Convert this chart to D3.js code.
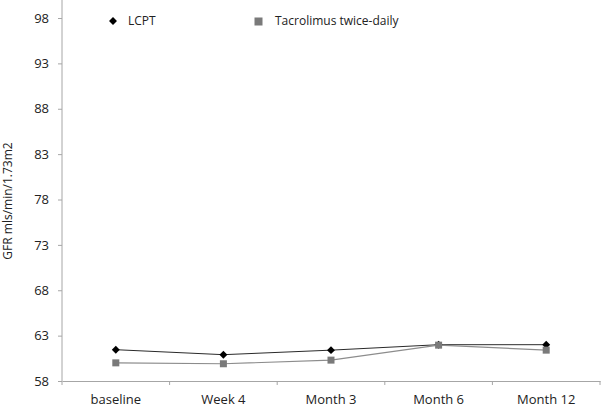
<!DOCTYPE html>
<html>
<head>
<meta charset="utf-8">
<script src="https://d3js.org/d3.v7.min.js"></script>
<style>
  body { margin: 0; background: #fff; }
  svg text { font-family: "Open Sans", "Liberation Sans", sans-serif; fill: #222; }
  .axis path, .axis line { stroke: #a6a6a6; }
</style>
</head>
<body>
<div id="chart"></div>
<script>
// data
var timepoints = ["baseline", "Week 4", "Month 3", "Month 6", "Month 12"];
var lcpt = [61.45, 60.9, 61.4, 62.0, 62.0];
var tacBid = [60.0, 59.9, 60.3, 61.95, 61.4];
var yTicks = [58, 63, 68, 73, 78, 83, 88, 93, 98];
var seriesNames = ["LCPT", "Tacrolimus twice-daily"];

var W = 602, H = 407;
var margin = {top: 18, right: 2, bottom: 26, left: 62};
var width = W - margin.left - margin.right,
    height = H - margin.top - margin.bottom;

var svg = d3.select("#chart").append("svg")
    .attr("width", W).attr("height", H);

var g = svg.append("g")
    .attr("transform", "translate(" + margin.left + "," + margin.top + ")");

var x = d3.scaleBand().domain(timepoints).range([0, width]);
var y = d3.scaleLinear().domain([58, 98]).range([height, 0]);

// y axis
var yAxis = g.append("g").attr("class", "axis")
    .call(d3.axisLeft(y).tickValues(yTicks).tickSize(4).tickSizeOuter(0));
yAxis.select(".domain").attr("d", "M0," + height + "V-" + margin.top);
yAxis.selectAll("text").attr("x", -13).style("font-size", "13px");

// x axis with tick marks at band edges
var xAxis = g.append("g").attr("class", "axis")
    .attr("transform", "translate(0," + height + ")")
    .call(d3.axisBottom(x).tickSize(0).tickSizeOuter(0));
xAxis.selectAll("text").attr("dy", "1.5em").style("font-size", "13px");
xAxis.selectAll(".edge").data(timepoints.concat([null])).enter().append("line")
    .attr("class", "edge")
    .attr("x1", function(d, i) { return i * x.bandwidth(); })
    .attr("x2", function(d, i) { return i * x.bandwidth(); })
    .attr("y1", 0).attr("y2", 4)
    .attr("stroke", "#a6a6a6");

// y label
svg.append("text")
    .attr("transform", "translate(12," + 201 + ") rotate(-90)")
    .attr("text-anchor", "middle")
    .style("font-size", "12px")
    .text("GFR mls/min/1.73m2");

var cx = function(d, i) { return x(timepoints[i]) + x.bandwidth() / 2; };
var line = d3.line().x(cx).y(function(d) { return y(d); });
var diamond = d3.symbol().type(d3.symbolDiamond2).size(40);

// LCPT series
g.append("path").datum(lcpt)
    .attr("d", line).attr("fill", "none")
    .attr("stroke", "#2a2a2a").attr("stroke-width", 1);
g.selectAll(".dm").data(lcpt).enter().append("path")
    .attr("class", "dm")
    .attr("transform", function(d, i) { return "translate(" + cx(d, i) + "," + y(d) + ")"; })
    .attr("d", diamond)
    .attr("fill", "#000");

// tacrolimus series (drawn on top)
g.append("path").datum(tacBid)
    .attr("d", line).attr("fill", "none")
    .attr("stroke", "#8c8c8c").attr("stroke-width", 1.2);
g.selectAll(".sq").data(tacBid).enter().append("rect")
    .attr("class", "sq")
    .attr("x", function(d, i) { return cx(d, i) - 3.5; })
    .attr("y", function(d) { return y(d) - 3.5; })
    .attr("width", 7).attr("height", 7)
    .attr("fill", "#7a7a7a");

// legend
var legend = svg.append("g");
legend.append("path")
    .attr("transform", "translate(113,21)")
    .attr("d", diamond).attr("fill", "#000");
legend.append("text").attr("x", 128).attr("y", 21).attr("dy", "0.35em")
    .style("font-size", "12px").text(seriesNames[0]);
legend.append("rect")
    .attr("x", 254.5).attr("y", 17.5).attr("width", 8).attr("height", 8)
    .attr("fill", "#7a7a7a");
legend.append("text").attr("x", 275).attr("y", 21).attr("dy", "0.35em")
    .style("font-size", "12px").text(seriesNames[1]);
</script>
</body>
</html>
